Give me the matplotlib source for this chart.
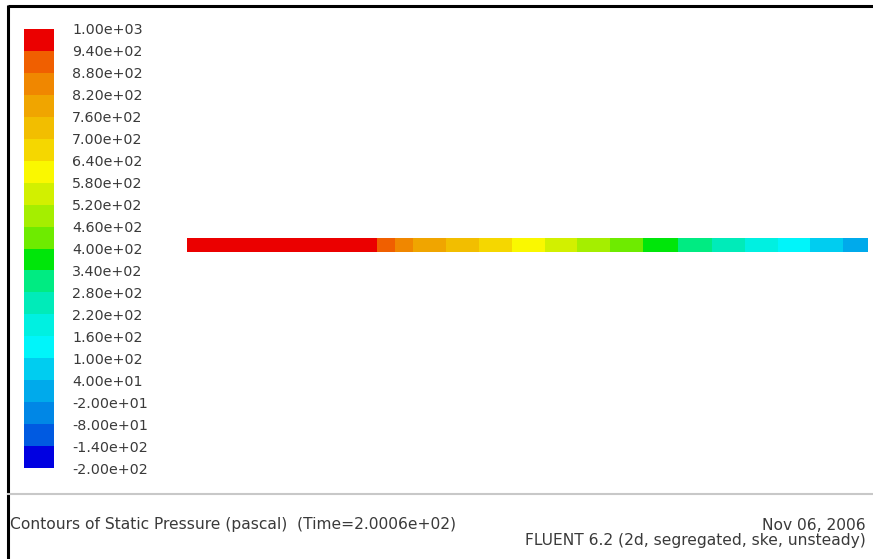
import numpy as np
import matplotlib
matplotlib.use('Agg')
import matplotlib.pyplot as plt
from matplotlib.colors import ListedColormap, BoundaryNorm
from matplotlib.cm import ScalarMappable

plt.rcParams['font.family'] = ['DejaVu Sans']

# contour levels (pascal), bottom to top
levels = [-200, -140, -80, -20, 40, 100, 160, 220, 280, 340, 400,
          460, 520, 580, 640, 700, 760, 820, 880, 940, 1000]

band_rgb = [(0, 0, 225), (0, 90, 225), (0, 135, 230), (0, 170, 235),
            (0, 205, 240), (0, 245, 250), (0, 240, 225), (0, 235, 185),
            (0, 235, 130), (0, 230, 10), (110, 235, 0), (165, 238, 0),
            (210, 240, 0), (250, 248, 0), (245, 215, 0), (242, 190, 0),
            (240, 165, 0), (240, 135, 0), (240, 95, 0), (235, 0, 0)]

# pipe: axial position (fraction of length) of cell edges, pressure per cell
axial_pos = [0.0, 0.279, 0.305, 0.332, 0.380, 0.429, 0.477, 0.526, 0.573,
             0.621, 0.670, 0.721, 0.771, 0.819, 0.868, 0.915, 0.963, 1.0]
pressure = [970, 910, 850, 790, 730, 670, 610, 550, 490, 430, 370,
            310, 250, 190, 130, 70, 10]

W, H = 873, 559
fig = plt.figure(figsize=(W / 100, H / 100), dpi=100)
fig.patch.set_facecolor('white')

def px_rect(x0, y0, x1, y1):
    # pixel box (top-left origin) -> figure fraction rect
    return [x0 / W, 1 - y1 / H, (x1 - x0) / W, (y1 - y0) / H]

cmap = ListedColormap([tuple(c / 255 for c in rgb) for rgb in band_rgb])
norm = BoundaryNorm(levels, cmap.N)

# background frame
bg = fig.add_axes([0, 0, 1, 1])
bg.set_xlim(0, W)
bg.set_ylim(H, 0)
bg.axis('off')
bg.plot([7.5, W], [5.5, 5.5], color='black', lw=2.2, solid_capstyle='butt')
bg.plot([7.5, 7.5], [5, H], color='black', lw=2.2, solid_capstyle='butt')
bg.plot([8, W], [494, 494], color='#c8c8c8', lw=1.5)

# pipe contour
ax = fig.add_axes(px_rect(187, 238, 868, 252))
ax.pcolormesh(axial_pos, [0, 1], np.array(pressure).reshape(1, -1),
              cmap=cmap, norm=norm, shading='flat')
ax.set_xlim(0, 1)
ax.set_ylim(0, 1)
ax.axis('off')

# legend bar
cax = fig.add_axes(px_rect(24, 29, 54, 468))
cb = fig.colorbar(ScalarMappable(norm=norm, cmap=cmap), cax=cax,
                  ticks=levels, format='%.2e')
cb.outline.set_visible(False)
cax.tick_params(length=0, pad=13, labelsize=10.3, labelcolor='#3a3a3a')

txt = dict(fontsize=11.2, color='#3a3a3a', va='center')
fig.text(10 / W, 1 - 525 / H,
         'Contours of Static Pressure (pascal)  (Time=2.0006e+02)',
         ha='left', **txt)
fig.text(866 / W, 1 - 525 / H, 'Nov 06, 2006', ha='right', **txt)
fig.text(866 / W, 1 - 541 / H, 'FLUENT 6.2 (2d, segregated, ske, unsteady)',
         ha='right', **txt)

fig.savefig('out.png', dpi=100)
